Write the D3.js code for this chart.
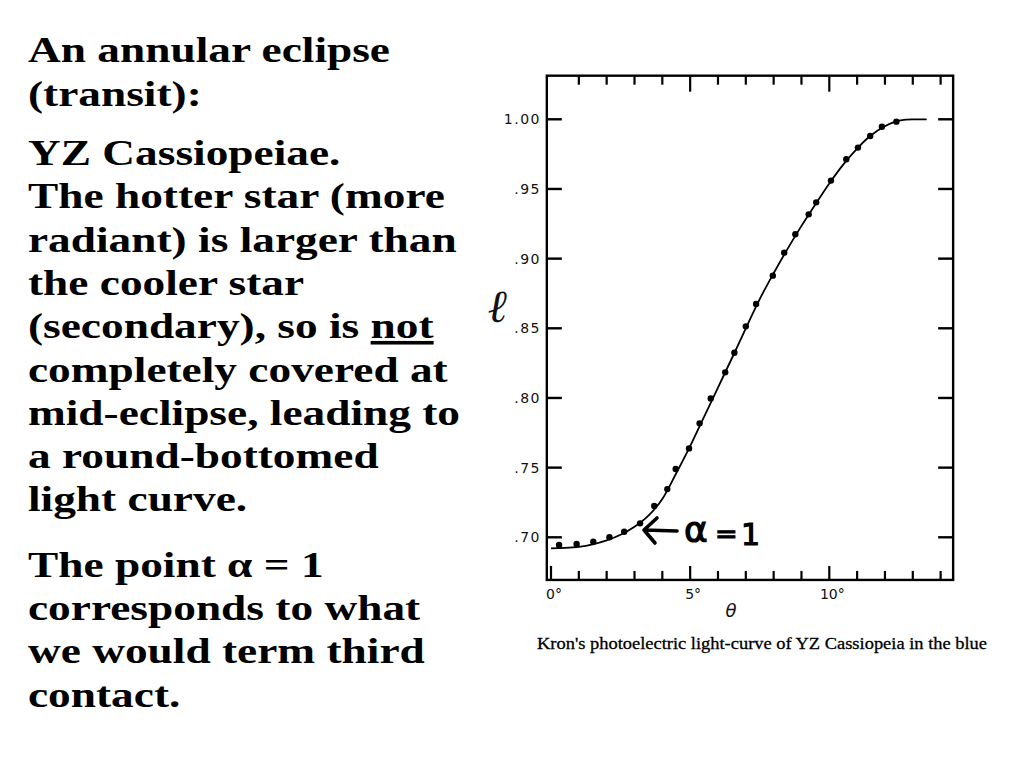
<!DOCTYPE html>
<html><head><meta charset="utf-8">
<script src="https://cdn.jsdelivr.net/npm/d3@7"></script>
<style>
html,body{margin:0;padding:0;background:#fff;}
svg{display:block;}
</style></head>
<body>
<svg id="c" width="1024" height="768"></svg>
<script>
// ---- data ----
const obsTheta = [0.29,0.92,1.52,2.10,2.63,3.20,3.71,4.18,4.48,4.96,5.34,5.74,6.26,6.59,7.00,7.37,7.97,8.38,8.78,9.26,9.53,10.06,10.61,11.03,11.47,11.89,12.41];
const obsL     = [0.6945,0.6952,0.6968,0.7000,0.7040,0.7100,0.7225,0.7346,0.7490,0.7638,0.7818,0.7997,0.8184,0.8324,0.8514,0.8675,0.8878,0.9043,0.9175,0.9318,0.9404,0.9560,0.9713,0.9797,0.9880,0.9947,0.9983];
const curveTheta = [0,0.5,1,1.5,2,2.5,3,3.5,4,4.5,5,5.5,6,6.5,7,7.5,8,8.5,9,9.5,10,10.5,11,11.5,12,12.5,13,13.5];
const curveL     = [0.6921,0.6924,0.6932,0.6950,0.6978,0.7018,0.7075,0.7155,0.7275,0.7460,0.7655,0.7865,0.8075,0.8285,0.8500,0.8710,0.8895,0.9070,0.9235,0.9390,0.9540,0.9675,0.9790,0.9885,0.9950,0.9990,1.0000,1.0000];
const yTicks = [0.70,0.75,0.80,0.85,0.90,0.95,1.00];
const yTickLabels = [".70",".75",".80",".85",".90",".95","1.00"];
const xMajor = [0,5,10];
const xMajorLabels = ["0°","5°","10°"];
const xMinor = [1,2,3,4,6,7,8,9,11,12,13,14];
const annotationParts = ["α","=","1"];
const caption = "Kron's photoelectric light-curve of YZ Cassiopeia in the blue";
const paragraphs = [
  {y:62.3, lines:["An annular eclipse","(transit):"]},
  {y:165.1, lines:["YZ Cassiopeiae.","The hotter star (more","radiant) is larger than","the cooler star","(secondary), so is |not|","completely covered at","mid-eclipse, leading to","a round-bottomed","light curve."]},
  {y:576.7, lines:["The point α = 1","corresponds to what","we would term third","contact."]}
];

const svg = d3.select("#c");
const lineH = 43.3;
const stretch = 1.26;

// ---- left text ----
const tg = svg.append("g").attr("transform",`scale(${stretch},1)`)
  .attr("font-family","'Liberation Serif','Times New Roman',serif")
  .attr("font-weight","bold").attr("font-size",36).attr("fill","#000");
paragraphs.forEach(p=>{
  p.lines.forEach((ln,i)=>{
    const t = tg.append("text").attr("x",28/stretch).attr("y",p.y+i*lineH);
    const parts = ln.split("|");
    parts.forEach((s,k)=>{
      if(s.length===0) return;
      const ts = t.append("tspan").text(s);
      if(k===1) ts.attr("text-decoration","underline");
    });
  });
});

// ---- chart ----
const x = d3.scaleLinear().domain([0,10]).range([551,829.3]);
const y = d3.scaleLinear().domain([0.70,1.00]).range([537.3,119.3]);
const xL = x(-0.15), xR = x(14.45), yT = y(1.0313), yB = y(0.6694);

const g = svg.append("g");
g.append("rect").attr("x",xL).attr("y",yT).attr("width",xR-xL).attr("height",yB-yT)
  .attr("fill","none").attr("stroke","#000").attr("stroke-width",2.4);

// y ticks left and right (inward)
const yLen = 15;
g.selectAll(".ytl").data(yTicks).join("line")
  .attr("x1",xL).attr("x2",xL+yLen).attr("y1",d=>y(d)).attr("y2",d=>y(d))
  .attr("stroke","#000").attr("stroke-width",2.4);
g.selectAll(".ytr").data(yTicks).join("line")
  .attr("x1",xR).attr("x2",xR-yLen).attr("y1",d=>y(d)).attr("y2",d=>y(d))
  .attr("stroke","#000").attr("stroke-width",2.4);
g.selectAll(".ylab").data(yTicks).join("text")
  .attr("x",541).attr("y",d=>y(d)+5).attr("text-anchor","end")
  .attr("font-family","'DejaVu Sans',sans-serif").attr("font-size",14)
  .attr("letter-spacing",1.5).attr("fill","#111")
  .text((d,i)=>yTickLabels[i]);

// x ticks bottom and top
const allX = xMajor.concat(xMinor);
g.selectAll(".xtb").data(allX).join("line")
  .attr("x1",d=>x(d)).attr("x2",d=>x(d)).attr("y1",yB)
  .attr("y2",d=>yB-(xMajor.includes(d)?14:9))
  .attr("stroke","#000").attr("stroke-width",2.2);
g.selectAll(".xtt").data(allX.filter(d=>d>0)).join("line")
  .attr("x1",d=>x(d)).attr("x2",d=>x(d)).attr("y1",yT)
  .attr("y2",d=>yT+(xMajor.includes(d)?16:9))
  .attr("stroke","#000").attr("stroke-width",2.2);
g.selectAll(".xlab").data(xMajor).join("text")
  .attr("x",d=>x(d)+3).attr("y",yB+19).attr("text-anchor","middle")
  .attr("font-family","'DejaVu Sans',sans-serif").attr("font-size",14)
  .attr("fill","#111").text((d,i)=>xMajorLabels[i]);

// axis titles
g.append("text").attr("x",731).attr("y",617).attr("text-anchor","middle")
  .attr("font-family","'DejaVu Sans',sans-serif").attr("font-style","italic")
  .attr("font-size",18).attr("fill","#111").text("θ");
g.append("text").attr("x",497).attr("y",322).attr("text-anchor","middle")
  .attr("font-family","'DejaVu Serif',serif").attr("font-style","italic")
  .attr("font-size",46).attr("fill","#111").text("ℓ");

// curve
const line = d3.line().x((d,i)=>x(curveTheta[i])).y(d=>y(d)).curve(d3.curveMonotoneX);
g.append("path").datum(curveL).attr("d",line).attr("fill","none")
  .attr("stroke","#000").attr("stroke-width",1.8);

// observations
g.selectAll(".pt").data(obsL).join("circle")
  .attr("cx",(d,i)=>x(obsTheta[i])).attr("cy",d=>y(d)).attr("r",3.2)
  .attr("fill","#000");

// annotation: hand-drawn arrow + "α=1"
g.append("path").attr("d","M677,531 L644,530 M657,518 L644,530 L655,543")
  .attr("fill","none").attr("stroke","#000").attr("stroke-width",3.6)
  .attr("stroke-linecap","round").attr("stroke-linejoin","round");
const at = g.append("text").attr("font-family","'DejaVu Sans',sans-serif")
  .attr("fill","#000").attr("stroke","#000").attr("stroke-width",1.2);
at.append("tspan").attr("x",684).attr("y",542).attr("font-size",36).text(annotationParts[0]);
at.append("tspan").attr("x",715).attr("y",543).attr("font-size",27).text(annotationParts[1]);
at.append("tspan").attr("x",741).attr("y",545).attr("font-size",30).text(annotationParts[2]);

// caption
svg.append("text").attr("x",537).attr("y",649)
  .attr("font-family","'Liberation Serif','Times New Roman',serif")
  .attr("font-size",17).attr("fill","#000").attr("stroke","#000").attr("stroke-width",0.3)
  .attr("textLength",450).attr("lengthAdjust","spacingAndGlyphs")
  .text(caption);
</script>
</body></html>
